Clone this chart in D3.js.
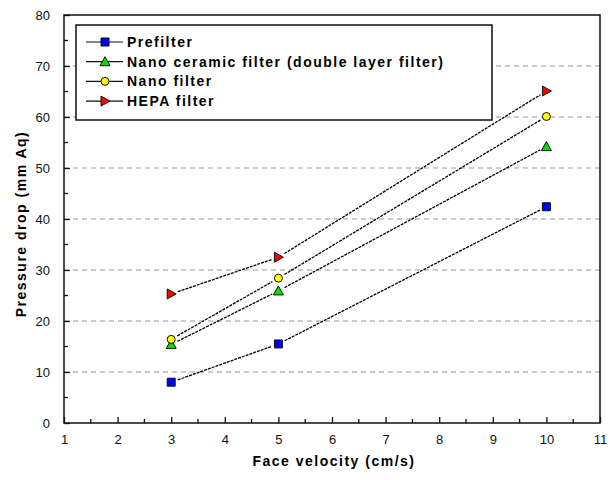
<!DOCTYPE html>
<html>
<head>
<meta charset="utf-8">
<script src="https://cdn.jsdelivr.net/npm/d3@7"></script>
<style>
  body { margin: 0; background: #fff; }
  text { font-family: "Liberation Sans", Arial, sans-serif; }
</style>
</head>
<body>
<script>
(function () {
  'use strict';

  const velocity = [3, 5, 10];
  const prefilter = [8, 15.5, 42.4];
  const nanoCeramic = [15.4, 25.9, 54.2];
  const nanoFilter = [16.4, 28.4, 60.1];
  const hepa = [25.3, 32.5, 65.1];

  const seriesNames = ["Prefilter", "Nano ceramic filter (double layer filter)", "Nano filter", "HEPA filter"];
  const xTicks = [1, 2, 3, 4, 5, 6, 7, 8, 9, 10, 11];
  const yTicks = [0, 10, 20, 30, 40, 50, 60, 70, 80];

  const series = [
    { name: seriesNames[0], values: prefilter, shape: "square", color: "#0000ff" },
    { name: seriesNames[1], values: nanoCeramic, shape: "triangle", color: "#00e000" },
    { name: seriesNames[2], values: nanoFilter, shape: "circle", color: "#ffff00" },
    { name: seriesNames[3], values: hepa, shape: "right", color: "#ff0000" }
  ];

  const width = 614, height = 480;
  const left = 64, right = 600, top = 15, bottom = 423;

  const x = d3.scaleLinear().domain([1, 11]).range([left, right]);
  const y = d3.scaleLinear().domain([0, 80]).range([bottom, top]);

  const svg = d3.select("body").append("svg")
      .attr("width", width)
      .attr("height", height);

  // dashed grid
  svg.append("g").selectAll("line")
    .data(yTicks.filter(d => d > 0 && d < 80))
    .enter().append("line")
      .attr("x1", left).attr("x2", right)
      .attr("y1", d => y(d)).attr("y2", d => y(d))
      .attr("stroke", "#9a9a9a")
      .attr("stroke-width", 1.2)
      .attr("stroke-dasharray", "5,4");

  // frame
  svg.append("rect")
      .attr("x", left).attr("y", top)
      .attr("width", right - left).attr("height", bottom - top)
      .attr("fill", "none")
      .attr("stroke", "#111")
      .attr("stroke-width", 1.5);

  // axes with inward ticks
  const xAxis = d3.axisBottom(x).tickValues(xTicks).tickSize(-6).tickPadding(12).tickFormat(d3.format("d"));
  const gx = svg.append("g").attr("transform", "translate(0," + bottom + ")").call(xAxis);
  const yAxis = d3.axisLeft(y).tickValues(yTicks).tickSize(-6).tickPadding(14).tickFormat(d3.format("d"));
  const gy = svg.append("g").attr("transform", "translate(" + left + ",0)").call(yAxis);
  [gx, gy].forEach(g => {
    g.select(".domain").remove();
    g.selectAll("line").attr("stroke", "#111").attr("stroke-width", 1.3);
    g.selectAll("text").attr("font-size", 13).attr("fill", "#111");
  });

  // minor ticks
  const xMinor = d3.range(1.5, 11, 1);
  svg.append("g").selectAll("line").data(xMinor).enter().append("line")
      .attr("x1", d => x(d)).attr("x2", d => x(d))
      .attr("y1", bottom).attr("y2", bottom - 4)
      .attr("stroke", "#111").attr("stroke-width", 1.3);
  const yMinor = d3.range(5, 80, 10);
  svg.append("g").selectAll("line").data(yMinor).enter().append("line")
      .attr("x1", left).attr("x2", left + 4)
      .attr("y1", d => y(d)).attr("y2", d => y(d))
      .attr("stroke", "#111").attr("stroke-width", 1.3);

  function markerPath(shape) {
    if (shape === "square") return "M-4,-4H4V4H-4Z";
    if (shape === "triangle") return "M0,-5L5,4H-5Z";
    if (shape === "circle") return d3.symbol(d3.symbolCircle, 50)();
    return "M-4,-5L5,0L-4,5Z";
  }

  // connecting lines, stopping short of markers
  const gap = 7;
  const lines = svg.append("g");
  series.forEach(s => {
    for (let i = 0; i < s.values.length - 1; i++) {
      const x0 = x(velocity[i]), y0 = y(s.values[i]);
      const x1 = x(velocity[i + 1]), y1 = y(s.values[i + 1]);
      const len = Math.hypot(x1 - x0, y1 - y0);
      const ux = (x1 - x0) / len, uy = (y1 - y0) / len;
      lines.append("line")
          .attr("x1", x0 + ux * gap).attr("y1", y0 + uy * gap)
          .attr("x2", x1 - ux * gap).attr("y2", y1 - uy * gap)
          .attr("stroke", "#000")
          .attr("stroke-width", 1.3)
          .attr("stroke-dasharray", "3,1");
    }
  });

  // markers
  series.forEach(s => {
    svg.append("g").selectAll("path")
      .data(s.values.map((v, i) => [velocity[i], v]))
      .enter().append("path")
        .attr("transform", d => "translate(" + x(d[0]) + "," + y(d[1]) + ")")
        .attr("d", markerPath(s.shape))
        .attr("fill", s.color)
        .attr("stroke", "#111")
        .attr("stroke-width", 1);
  });

  // legend
  const legend = svg.append("g");
  legend.append("rect")
      .attr("x", 76).attr("y", 25)
      .attr("width", 416).attr("height", 95)
      .attr("fill", "#fff")
      .attr("stroke", "#111")
      .attr("stroke-width", 1.5);
  series.forEach((s, i) => {
    const ly = 42 + i * 19.7;
    legend.append("line")
        .attr("x1", 86).attr("x2", 123)
        .attr("y1", ly).attr("y2", ly)
        .attr("stroke", "#111").attr("stroke-width", 1.2);
    legend.append("path")
        .attr("transform", "translate(105," + ly + ")")
        .attr("d", markerPath(s.shape))
        .attr("fill", s.color)
        .attr("stroke", "#111");
    legend.append("text")
        .attr("x", 127).attr("y", ly + 5)
        .attr("font-size", 14)
        .attr("font-weight", "bold")
        .attr("letter-spacing", 1.5)
        .attr("fill", "#000")
        .text(s.name);
  });

  // axis titles
  svg.append("text")
      .attr("x", 334).attr("y", 466)
      .attr("text-anchor", "middle")
      .attr("font-size", 14).attr("font-weight", "bold")
      .attr("letter-spacing", 1.5)
      .attr("fill", "#000")
      .text("Face velocity (cm/s)");
  svg.append("text")
      .attr("transform", "translate(26," + 224 + ")rotate(-90)")
      .attr("text-anchor", "middle")
      .attr("font-size", 14).attr("font-weight", "bold")
      .attr("letter-spacing", 1.5)
      .attr("fill", "#000")
      .text("Pressure drop (mm Aq)");
}());
</script>
</body>
</html>
